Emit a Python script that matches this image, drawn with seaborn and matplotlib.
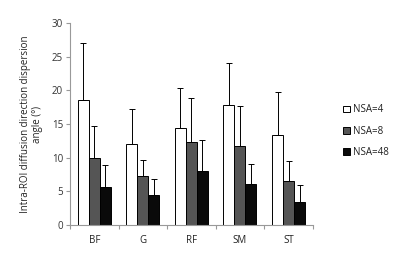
import numpy as np
import pandas as pd
import matplotlib
matplotlib.use("Agg")
import matplotlib.pyplot as plt
import seaborn as sns
from matplotlib.ticker import FixedLocator

# ── data ──────────────────────────────────────────────────────────────────────

muscles = ["BF", "G", "RF", "SM", "ST"]
groups = ["NSA=4", "NSA=8", "NSA=48"]

mean_nsa4 = [18.6, 12.0, 14.4, 17.8, 13.3]
sd_nsa4 = [8.5, 5.3, 6.0, 6.3, 6.4]
mean_nsa8 = [9.9, 7.3, 12.4, 11.8, 6.6]
sd_nsa8 = [4.8, 2.4, 6.5, 5.9, 2.9]
mean_nsa48 = [5.6, 4.5, 8.0, 6.1, 3.4]
sd_nsa48 = [3.3, 2.3, 4.6, 2.9, 2.5]

means = [mean_nsa4, mean_nsa8, mean_nsa48]
sds = [sd_nsa4, sd_nsa8, sd_nsa48]

df = pd.DataFrame({
    "muscle": muscles * 3,
    "group": np.repeat(groups, len(muscles)),
    "mean": mean_nsa4 + mean_nsa8 + mean_nsa48,
})

# ── plot ──────────────────────────────────────────────────────────────────────

sns.set_style("white")
plt.rcParams["font.family"] = ["Open Sans", "DejaVu Sans"]

fig, ax = plt.subplots(figsize=(4.0, 2.65), dpi=100)
fig.subplots_adjust(left=0.175, right=0.782, bottom=0.151, top=0.913)

palette = {"NSA=4": "white", "NSA=8": "#555555", "NSA=48": "#0a0a0a"}
sns.barplot(data=df, x="muscle", y="mean", hue="group", palette=palette,
            width=0.68, edgecolor="black", linewidth=0.7, errorbar=None, ax=ax)

# upward-only error bars with caps
for container, sd in zip(ax.containers, sds):
    xs = [p.get_x() + p.get_width() / 2 for p in container.patches]
    ys = [p.get_height() for p in container.patches]
    ax.errorbar(xs, ys, yerr=[np.zeros(len(sd)), sd], fmt="none",
                ecolor="black", elinewidth=0.7, capsize=2.5, capthick=0.7)

ax.set_ylim(0, 30)
ax.set_xlim(-0.5, 4.5)
ax.set_yticks(range(0, 31, 5))
ax.set_xlabel("")
ax.set_ylabel("Intra-ROI diffusion direction dispersion\nangle (°)", fontsize=7,
              color="#222222", labelpad=6)

for side in ["top", "right"]:
    ax.spines[side].set_visible(False)
for side in ["left", "bottom"]:
    ax.spines[side].set_color("#999999")
    ax.spines[side].set_linewidth(0.8)

ax.tick_params(axis="y", which="major", left=True, length=3, width=0.8,
               color="#999999", labelsize=7, labelcolor="#333333", pad=2)
ax.tick_params(axis="x", which="major", length=0, labelsize=7,
               labelcolor="#222222", pad=7)
ax.xaxis.set_minor_locator(FixedLocator(np.arange(-0.5, 5, 1.0)))
ax.tick_params(axis="x", which="minor", bottom=True, length=3, width=0.8,
               color="#999999")

ax.legend(loc="center left", bbox_to_anchor=(1.09, 0.465), frameon=False,
          fontsize=7, handlelength=0.7, handleheight=0.7, handletextpad=0.3,
          labelspacing=1.05, labelcolor="#222222")

plt.savefig("out.png", dpi=100)
